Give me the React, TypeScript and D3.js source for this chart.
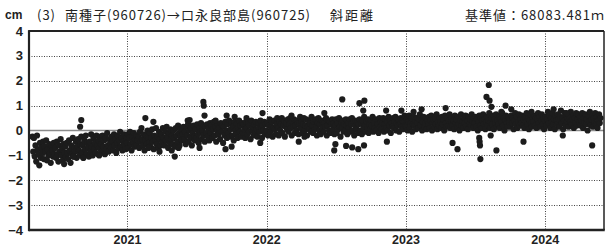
import React from 'react';
import * as d3 from 'd3';

const firstDate = '2020-04-27';
const lastDate = '2024-05-25';

const values2020 = [
  -0.25, -0.85, -0.3, -1.05, -0.6, -1.25, -0.2, -0.75, -0.95, -1.4, -0.5, -1.1, -0.7, -0.9, -0.45,
  -1.15, -0.65, -0.85, -0.4, -1.2, -0.75, -1.0, -0.55, -0.9, -1.3, -0.6, -0.8, -1.05, -0.5, -0.95,
  -0.7, -1.1, -0.45, -0.95, -1.25, -0.6, -0.85, -0.35, -1.0, -0.75, -1.2, -0.55, -0.9, -0.65, -1.05,
  -0.5, -0.9, -1.15, -0.4, -0.8, -1.3, -0.6, -0.95, -0.3, -1.05, -0.7, -0.85, -0.45, -1.1, -0.65,
  -0.35, -0.8, -1.0, -0.55, -0.25, -0.9, -0.6, -1.1, -0.4, -0.75, -0.2, -0.95, -0.5, -0.7, -1.05,
  -0.45, -0.85, -0.15, -0.65, -1.0, -0.3, -0.75, -0.5, -0.9, -0.2, -0.6, -0.95, -0.4, -0.7, -0.25,
  -0.55, -0.85, -0.2, -0.65, -0.4, -0.95, -0.3, -0.75, -0.1, -0.6, -0.85, -0.35, -0.5, -0.7, -0.25,
  -0.45, -0.8, -0.15, -0.6, -0.35, -0.9, -0.5, -0.2, -0.7, -0.4, -0.05, -0.65, -0.3, -0.8, -0.45,
  -0.15, -0.55, -0.75, -0.3,
];
const values2021 = [
  -0.5, -0.15, -0.7, -0.3, -0.05, -0.55, -0.8, -0.25, -0.45, -0.1, -0.65, -0.35, -0.2, -0.6, -0.4,
  -0.25, -0.7, -0.05, -0.45, 0.1, -0.35, -0.6, -0.15, -0.8, -0.4, -0.2, -0.55, 0.0, -0.3,
  -0.5, -0.1, -0.65, -0.3, 0.05, -0.45, -0.75, -0.2, -0.4, 0.1, -0.55, -0.25, -0.7, -0.05, -0.35, -0.6,
  -0.15, -0.45, 0.1, -0.3, -0.6, -0.05, -0.4, 0.15, -0.25, -0.7, -0.1, -0.5, 0.05, -0.35, -0.2,
  -0.55, 0.0, -0.3, -0.65, 0.1, -0.2, -0.45, 0.2, -0.1, -0.6, -0.25, 0.05, -0.4, -0.15, 0.15,
  -0.35, -0.05, -0.55, 0.15, -0.2, 0.25, -0.45, 0.0, -0.3, 0.1, -0.6, -0.1, 0.2, -0.25, -0.4,
  0.05, -0.3, 0.25, -0.15, -0.5, 0.1, -0.05, 0.3, -0.35, 0.0, -0.2, 0.2, -0.45, 0.15, -0.1, 0.25,
  -0.25, 0.1, -0.4, 0.3, -0.1, 0.2, -0.3, 0.05, 0.35, -0.2, 0.15, -0.45, 0.0, 0.25, -0.15,
  0.1, -0.35, 0.3, -0.05, 0.2, -0.5, 0.15, -0.2, 0.35, 0.0, -0.3, 0.25, -0.1, 0.4, -0.25,
  0.05, 0.3, -0.2, 0.15, -0.4, 0.35, 0.0, -0.15, 0.25, -0.3, 0.1, 0.4, -0.05, 0.2, -0.25, 0.3,
  -0.1, 0.25, 0.05, -0.3, 0.35, 0.1, -0.15, 0.3, -0.05, 0.2, -0.35, 0.4, 0.0, 0.15, -0.2,
  0.25, -0.1, 0.35, 0.05, -0.25, 0.3, 0.1, -0.05, 0.4, 0.15, -0.3, 0.2, 0.0, 0.35, -0.15, 0.25,
];
const values2022 = [
  0.0, 0.3, -0.2, 0.2, 0.45, -0.05, 0.15, 0.35, -0.25, 0.1, 0.4, 0.05, -0.15, 0.25, 0.5,
  0.1, -0.2, 0.35, 0.0, 0.25, 0.5, -0.1, 0.2, 0.4, -0.25, 0.15, 0.3, 0.05, 0.45,
  -0.05, 0.25, 0.5, 0.1, -0.2, 0.35, 0.15, 0.45, -0.1, 0.2, 0.0, 0.4, 0.3, -0.15, 0.25, 0.55,
  0.1, 0.35, -0.1, 0.25, 0.5, 0.0, 0.2, 0.45, -0.2, 0.15, 0.4, 0.05, 0.3, -0.05, 0.55,
  0.2, -0.1, 0.35, 0.05, 0.45, 0.15, -0.2, 0.3, 0.5, 0.0, 0.25, -0.15, 0.4, 0.1, 0.35,
  -0.05, 0.3, 0.15, 0.5, -0.2, 0.2, 0.4, 0.0, 0.35, -0.1, 0.25, 0.45, 0.05, 0.3, -0.15,
  0.2, 0.45, -0.1, 0.3, 0.05, 0.5, 0.15, -0.25, 0.35, 0.1, 0.4, -0.05, 0.25, 0.0, 0.45, 0.2,
  -0.15, 0.3, 0.1, 0.45, -0.05, 0.25, 0.5, 0.0, 0.35, -0.2, 0.2, 0.4, 0.05, 0.3, -0.1,
  0.25, 0.45, 0.0, 0.3, -0.15, 0.4, 0.1, 0.55, 0.2, -0.05, 0.35, 0.15, 0.45, -0.1, 0.25,
  0.05, 0.4, 0.2, 0.55, -0.05, 0.3, 0.1, 0.45, 0.0, 0.35, 0.25, -0.1, 0.5, 0.15, 0.35, 0.05,
  0.3, 0.5, -0.05, 0.25, 0.45, 0.1, 0.35, 0.0, 0.55, 0.2, 0.4, -0.1, 0.3, 0.15, 0.5,
  0.1, 0.35, 0.55, 0.0, 0.3, 0.2, 0.45, -0.05, 0.25, 0.5, 0.15, 0.4, 0.05, 0.35, 0.6, 0.2,
];
const values2023 = [
  0.15, 0.45, 0.0, 0.35, 0.6, 0.1, 0.3, 0.5, -0.05, 0.25, 0.55, 0.2, 0.4, 0.05, 0.5,
  0.3, 0.1, 0.45, 0.65, 0.2, 0.4, 0.0, 0.35, 0.55, 0.15, 0.3, 0.5, 0.05, 0.4,
  0.25, 0.55, 0.1, 0.4, 0.6, 0.0, 0.3, 0.45, 0.15, 0.5, 0.25, 0.65, 0.05, 0.35, 0.2, 0.5,
  0.35, 0.1, 0.55, 0.25, 0.45, 0.0, 0.6, 0.3, 0.15, 0.5, 0.2, 0.4, 0.65, 0.1, 0.35,
  0.5, 0.2, 0.4, 0.05, 0.6, 0.3, 0.45, 0.15, 0.55, 0.25, 0.0, 0.4, 0.65, 0.2, 0.35,
  0.1, 0.5, 0.3, 0.6, 0.15, 0.4, 0.05, 0.55, 0.25, 0.45, 0.2, 0.65, 0.35, 0.1, 0.5,
  0.3, 0.55, 0.15, 0.45, 0.0, 0.35, 0.6, 0.2, 0.5, 0.1, 0.4, 0.65, 0.25, 0.45, 0.05, 0.35,
  0.55, 0.2, 0.4, 0.7, 0.1, 0.35, 0.5, 0.25, 0.6, 0.05, 0.45, 0.3, 0.65, 0.15, 0.4,
  0.25, 0.55, 0.1, 0.45, 0.35, 0.7, 0.2, 0.5, 0.0, 0.4, 0.6, 0.3, 0.15, 0.55, 0.35,
  0.45, 0.15, 0.6, 0.3, 0.5, 0.05, 0.4, 0.7, 0.25, 0.55, 0.1, 0.35, 0.65, 0.2, 0.45, 0.3,
  0.6, 0.2, 0.45, 0.1, 0.55, 0.35, 0.7, 0.25, 0.5, 0.05, 0.4, 0.65, 0.3, 0.15, 0.5,
  0.35, 0.6, 0.2, 0.5, 0.1, 0.45, 0.7, 0.3, 0.55, 0.15, 0.4, 0.65, 0.25, 0.5, 0.05, 0.4,
];
const values2024 = [
  0.55, 0.2, 0.45, 0.75, 0.3, 0.6, 0.1, 0.5, 0.35, 0.7, 0.25, 0.45, 0.05, 0.6, 0.4,
  0.25, 0.65, 0.45, 0.15, 0.55, 0.8, 0.3, 0.5, 0.05, 0.4, 0.7, 0.2, 0.6, 0.35, 0.5,
  0.15, 0.55, 0.35, 0.75, 0.25, 0.45, 0.6, 0.1, 0.5, 0.3, 0.7, 0.2, 0.45, 0.65, 0.35,
  0.55, 0.2, 0.4, 0.7, 0.1, 0.5, 0.3, 0.65, 0.25, 0.45, 0.0, 0.6, 0.35, 0.75, 0.2,
  0.45, 0.6, 0.15, 0.5, 0.3, 0.7, 0.25, 0.55, 0.1, 0.4, 0.65, 0.3, 0.5,
];

const outlierDates = [
  '2020-07-19', '2020-08-12', '2020-08-30', '2020-09-02', '2020-09-07', '2020-10-19',
  '2021-02-17', '2021-02-25', '2021-03-10', '2021-03-26', '2021-04-27', '2021-05-05',
  '2021-05-15', '2021-06-08', '2021-06-13', '2021-07-09', '2021-07-19', '2021-07-20',
  '2021-07-22', '2021-08-20', '2021-09-15', '2021-09-18', '2021-10-01', '2021-10-09',
  '2021-11-09', '2021-12-15', '2021-12-21', '2022-03-07', '2022-03-26', '2022-04-10',
  '2022-06-01', '2022-06-27', '2022-06-30', '2022-07-18', '2022-07-28', '2022-08-13',
  '2022-08-29', '2022-09-01', '2022-09-11', '2022-09-13', '2022-09-14', '2022-11-10',
  '2022-11-12', '2022-12-20', '2023-01-21', '2023-02-11', '2023-04-15', '2023-05-03',
  '2023-05-16', '2023-07-12', '2023-07-13', '2023-07-14', '2023-07-15', '2023-07-31',
  '2023-08-06', '2023-08-08', '2023-08-11', '2023-08-13', '2023-08-26', '2023-09-08',
  '2023-09-19', '2023-10-04', '2023-11-05', '2023-11-26', '2024-01-23', '2024-02-16',
  '2024-02-26', '2024-05-03',
];
const outlierValues = [
  -1.35, -1.05, 0.15, 0.42, -1.1, -1.0,
  0.5, -0.7, 0.35, -0.85, -0.8, -1.05,
  -0.7, 0.4, 0.42, -0.7, 1.15, 1.0,
  0.6, 0.4, -0.75, 0.6, -0.65, 0.55,
  0.5, -0.5, 0.7, 0.6, -0.45, -0.25,
  0.7, -0.8, -0.55, 1.25, -0.62, -0.68,
  -0.75, 1.1, 0.8, -0.6, 1.2, 0.8,
  -0.45, 0.8, 0.75, 0.85, 0.9, -0.5,
  -0.75, -0.3, -0.45, -0.6, -1.15, 1.35,
  1.83, 1.2, -0.2, 0.95, -0.8, 0.75,
  1.0, 0.85, -0.45, 0.75, 0.85, -0.2,
  0.7, -0.6,
];

const yTicks = [-4, -3, -2, -1, 0, 1, 2, 3, 4];
const yearTicks = [2021, 2022, 2023, 2024];

const W = 606;
const H = 246;
const L = 29;
const R = 604;
const T = 31;
const B = 230;

export default function App() {
  const x = d3
    .scaleTime()
    .domain([new Date(2020, 3, 18), new Date(2024, 5, 3)])
    .range([L, R]);
  const y = d3.scaleLinear().domain([-4, 4]).range([B, T]);

  const baseValues = [...values2020, ...values2021, ...values2022, ...values2023, ...values2024];
  const parse = d3.timeParse('%Y-%m-%d');
  const d0 = parse(firstDate)!.getTime();
  const d1 = parse(lastDate)!.getTime();
  const step = (d1 - d0) / (baseValues.length - 1);
  const points = baseValues.map((v, i) => ({ date: new Date(d0 + i * step), v }));
  const outliers = outlierDates.map((d, i) => ({ date: parse(d)!, v: outlierValues[i] }));
  const all = [...points, ...outliers];

  const labelFont = "'Liberation Sans Narrow', 'Liberation Sans', Arial, sans-serif";
  const cjkFont = "'Noto Sans CJK JP', 'Noto Sans', sans-serif";
  const fmt = (v: number) => (v < 0 ? '\u2212' + Math.abs(v) : String(v));

  return (
    <svg
      width={W}
      height={H}
      style={{ position: 'absolute', left: 0, top: 0, background: '#fff' }}
    >
      <rect x={0} y={0} width={W} height={H} fill="#fff" />
      {yTicks
        .filter((t) => t !== 0 && t !== 4 && t !== -4)
        .map((t) => (
          <line
            key={'gy' + t}
            x1={L}
            x2={R}
            y1={Math.round(y(t)) + 0.5}
            y2={Math.round(y(t)) + 0.5}
            stroke="#444"
            strokeWidth={1}
            strokeDasharray="1,1.5"
          />
        ))}
      {yearTicks.map((yr) => {
        const px = Math.round(x(new Date(yr, 0, 1))) + 0.5;
        return (
          <line
            key={'gx' + yr}
            x1={px}
            x2={px}
            y1={T}
            y2={B}
            stroke="#444"
            strokeWidth={1}
            strokeDasharray="1,1.5"
          />
        );
      })}
      <line x1={L} x2={R} y1={y(0)} y2={y(0)} stroke="#8a8a8a" strokeWidth={1.6} />
      <g fill="#1c1c1c">
        {all.map((p, i) => (
          <circle key={i} cx={x(p.date)} cy={y(p.v)} r={3.1} />
        ))}
      </g>
      <line x1={L} x2={R} y1={T} y2={T} stroke="#222" strokeWidth={1.8} />
      <line x1={R} x2={R} y1={T} y2={B} stroke="#222" strokeWidth={1.5} />
      <line x1={L} x2={L} y1={T - 0.9} y2={B + 1.2} stroke="#222" strokeWidth={2.2} />
      <line x1={L} x2={R + 0.75} y1={B} y2={B} stroke="#222" strokeWidth={2.4} />
      {yTicks.map((t) => (
        <text
          key={'yl' + t}
          x={23}
          y={y(t) + 4.5}
          textAnchor="end"
          fontFamily={labelFont}
          fontWeight="bold"
          fontSize={13}
          fill="#222"
        >
          {fmt(t)}
        </text>
      ))}
      {yearTicks.map((yr) => (
        <text
          key={'xl' + yr}
          x={x(new Date(yr, 0, 1))}
          y={243.5}
          textAnchor="middle"
          fontFamily={labelFont}
          fontWeight="bold"
          fontSize={12.5}
          fill="#222"
        >
          {yr}
        </text>
      ))}
      <text x={5} y={19} fontFamily={labelFont} fontWeight="bold" fontSize={12} fill="#222">
        cm
      </text>
      <text x={37} y={20} fontFamily={cjkFont} fontSize={13} fill="#222" textLength={18} lengthAdjust="spacing">
        (3)
      </text>
      <text x={65} y={20} fontFamily={cjkFont} fontSize={13} fill="#222" textLength={245} lengthAdjust="spacing">
        南種子(960726)→口永良部島(960725)
      </text>
      <text x={330} y={20} fontFamily={cjkFont} fontSize={13} fill="#222" textLength={43} lengthAdjust="spacing">
        斜距離
      </text>
      <text x={465} y={20} fontFamily={cjkFont} fontSize={13} fill="#222" textLength={139} lengthAdjust="spacing">
        基準値：68083.481ｍ
      </text>
    </svg>
  );
}
